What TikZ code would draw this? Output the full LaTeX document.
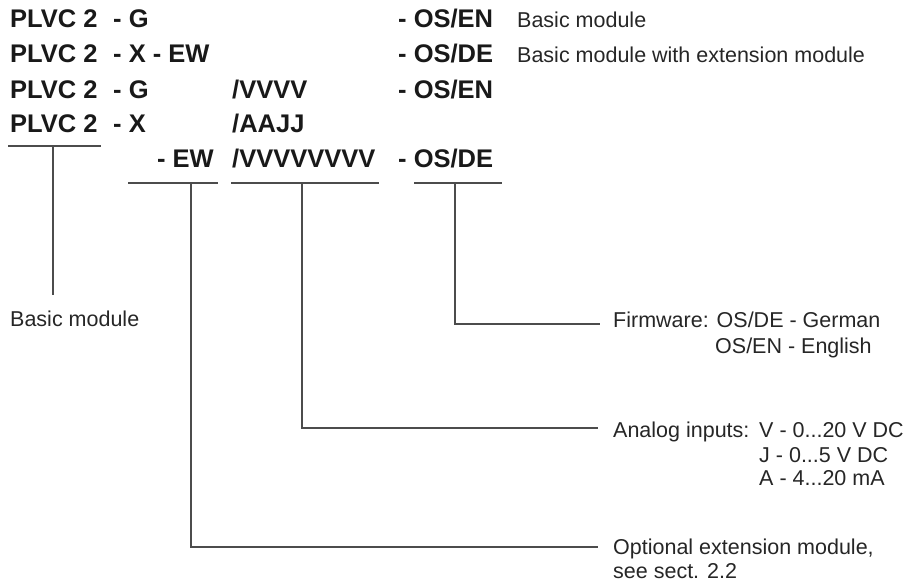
\documentclass[tikz,border=0pt]{standalone}
\usepackage{fontspec}
\usepackage{xcolor}
\newfontfamily\helv{Liberation Sans}
\newcommand\codefont{\helv\bfseries\fontsize{25.5}{30}\selectfont}
\newcommand\txtfont{\helv\fontsize{21.5}{25}\selectfont}

\begin{document}
\begin{tikzpicture}
            [x=1pt,y=-1pt,
             code/.style={anchor=base west,inner sep=0pt,font=\codefont,text=black!90},
             txt/.style={anchor=base west,inner sep=0pt,font=\txtfont,text=black!85},
             bracket/.style={draw=black!70,line width=1.1pt}]
            \useasboundingbox (0,0) rectangle (906,583);

            % type codes
            \node[code] (pA) at (10,28) {PLVC 2};
            \node[code] (gA) at (113,28) {- G};
            \node[code] (osA) at (398,28) {- OS/EN};
            \node[txt] (descA) at (517,28) {Basic module};

            \node[code] (pB) at (10,63) {PLVC 2};
            \node[code] (xB) at (113,63) {- X - EW};
            \node[code] (osB) at (398,63) {- OS/DE};
            \node[txt] (descB) at (517,63) {Basic module with extension module};

            \node[code] (pC) at (10,99) {PLVC 2};
            \node[code] (gC) at (113,99) {- G};
            \node[code] (vC) at (232,99) {/VVVV};
            \node[code] (osC) at (398,99) {- OS/EN};

            \node[code] (pD) at (10,133) {PLVC 2};
            \node[code] (xD) at (113,133) {- X};
            \node[code] (aD) at (232,133) {/AAJJ};

            \node[code,anchor=base east] (ewE) at (214,168) {- EW};
            \node[code] (vE) at (232,168) {/VVVVVVVV};
            \node[code] (osE) at (398,168) {- OS/DE};

            % explanations
            \node[txt] (basic) at (10,326) {Basic module};
            \node[txt] (fw) at (613,327) {Firmware: OS/DE - German};
            \node[txt] (fwB) at (715,353) {OS/EN - English};
            \node[txt] (ain) at (613,437) {Analog inputs:};
            \node[txt] (ainV) at (759,437) {V - 0...20 V DC};
            \node[txt] (ainJ) at (759,462) {J - 0...5 V DC};
            \node[txt] (ainA) at (759,485) {A - 4...20 mA};
            \node[txt] (opt) at (613,554) {Optional extension module,};
            \node[txt] (optB) at (613,578) {see sect. 2.2};

            % brackets
            \coordinate (u1l) at (8,146);
            \coordinate (u1r) at (101,146);
            \coordinate (u1t) at (53,146);
            \coordinate (u1e) at (53,295);
            \coordinate (u2l) at (128,183);
            \coordinate (u2r) at (218,183);
            \coordinate (u2t) at (191,183);
            \coordinate (u2e) at (598,547);
            \coordinate (u3l) at (231,183);
            \coordinate (u3r) at (379,183);
            \coordinate (u3t) at (302,183);
            \coordinate (u3e) at (598,428);
            \coordinate (u4l) at (414,183);
            \coordinate (u4r) at (502,183);
            \coordinate (u4t) at (455,183);
            \coordinate (u4e) at (600,324);

            \draw[bracket] (u1l) -- (u1r);
            \draw[bracket] (u1t) -- (u1e);
            \draw[bracket] (u2l) -- (u2r);
            \draw[bracket] (u2t) |- (u2e);
            \draw[bracket] (u3l) -- (u3r);
            \draw[bracket] (u3t) |- (u3e);
            \draw[bracket] (u4l) -- (u4r);
            \draw[bracket] (u4t) |- (u4e);
          \end{tikzpicture}
\end{document}
